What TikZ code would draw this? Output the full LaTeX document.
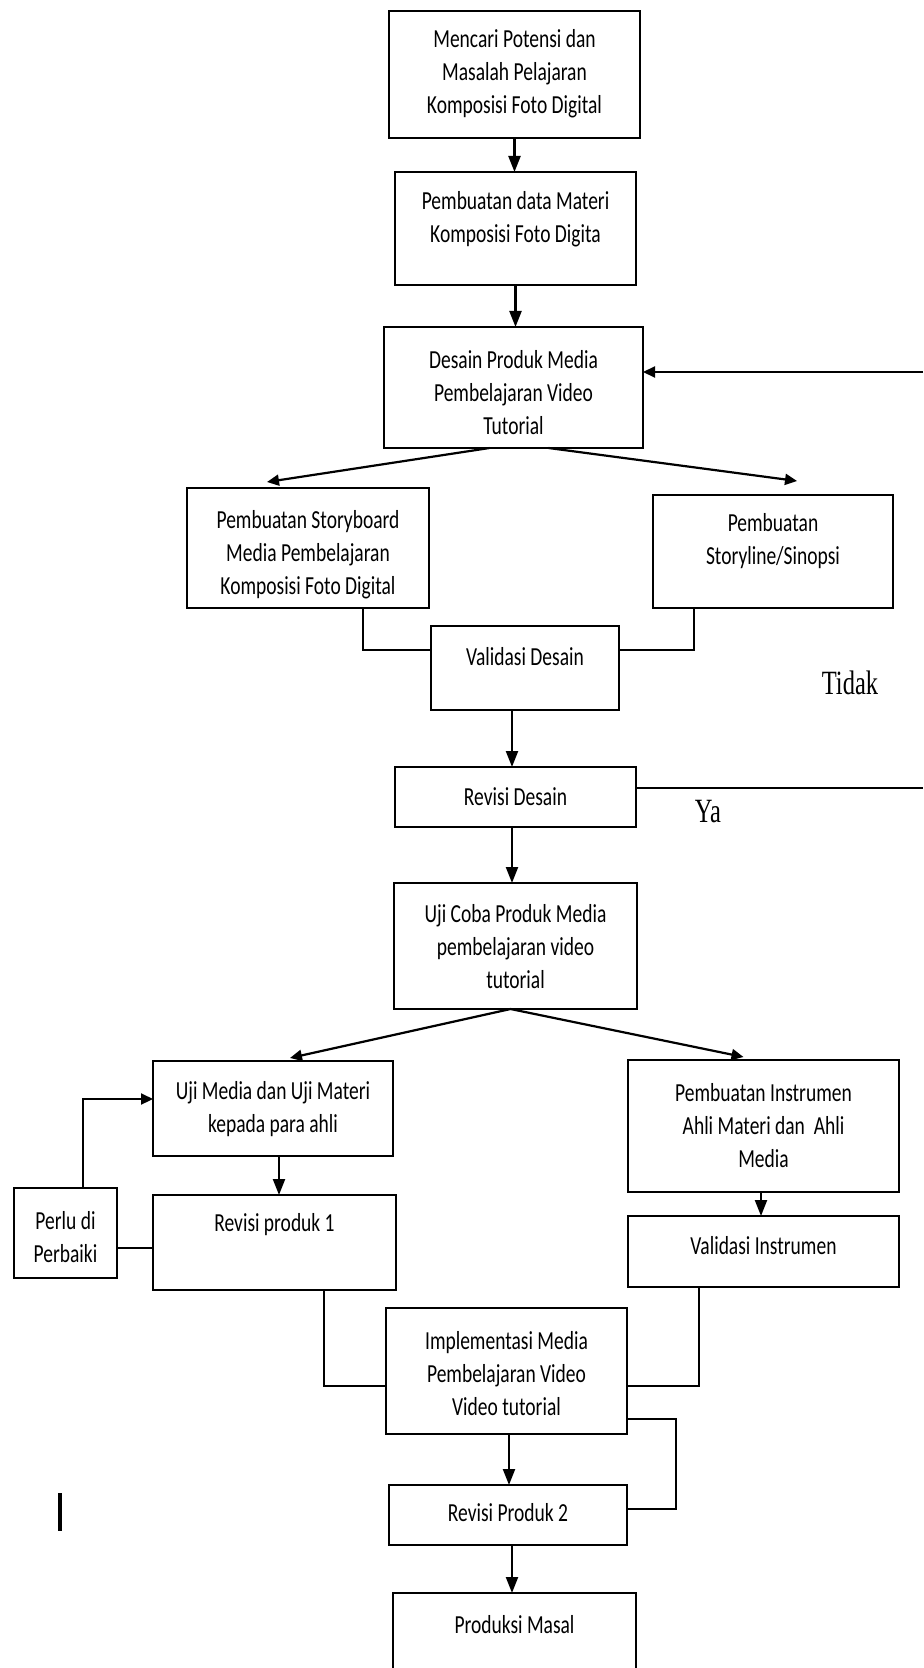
\documentclass[tikz,border=0pt]{standalone}
\usepackage{fontspec}
\setmainfont{Carlito}[FakeStretch=0.75]
\newfontfamily\serifnote{Liberation Serif}[FakeStretch=0.72]
\usetikzlibrary{arrows.meta,calc}
\begin{document}
\begin{tikzpicture}[x=0.5pt,y=-0.5pt,
  box/.style={draw, line width=1.3pt, inner sep=0pt, outer sep=0pt},
  txt/.style={align=center, font=\fontsize{13pt}{16.5pt}\selectfont, inner sep=0pt},
  conn/.style={line width=1.1pt},
  arr/.style={conn, -{Triangle[length=8pt,width=6pt]}},
  sarr/.style={conn, -{Triangle[length=6pt,width=5.5pt]}},
  lbl/.style={font=\serifnote\fontsize{17pt}{20pt}\selectfont, inner sep=0pt}]
\useasboundingbox (0,0) rectangle (923,1668);
\clip (0,0) rectangle (923,1668);
\fill[white] (0,0) rectangle (923,1668);

% boxes
\node[box, minimum width=125.5pt, minimum height=63.5pt] (b1) at (514.5,74.5) {};
\node[box, minimum width=120.5pt, minimum height=56.5pt] (b2) at (515.5,228.5) {};
\node[box, minimum width=129.5pt, minimum height=60.5pt] (b3) at (513.5,387.5) {};
\node[box, minimum width=121pt, minimum height=60pt] (b4) at (308,548) {};
\node[box, minimum width=120pt, minimum height=56.5pt] (b5) at (773,551.5) {};
\node[box, minimum width=94pt, minimum height=42pt] (b6) at (525,668) {};
\node[box, minimum width=120.5pt, minimum height=30pt] (b7) at (515.5,797) {};
\node[box, minimum width=121.5pt, minimum height=63pt] (b8) at (515.5,946) {};
\node[box, minimum width=120pt, minimum height=47.5pt] (b9) at (273,1108.5) {};
\node[box, minimum width=135.5pt, minimum height=66pt] (b10) at (763.5,1126) {};
\node[box, minimum width=121.5pt, minimum height=47.5pt] (b11) at (274.5,1242.5) {};
\node[box, minimum width=51.5pt, minimum height=45pt] (b12) at (65.5,1233) {};
\node[box, minimum width=135.5pt, minimum height=35.5pt] (b13) at (763.5,1251.5) {};
\node[box, minimum width=120.5pt, minimum height=63pt] (b14) at (506.5,1371) {};
\node[box, minimum width=119pt, minimum height=30pt] (b15) at (508,1515) {};
\node[box, minimum width=121.5pt, minimum height=57pt] (b16) at (514.5,1650) {};

% texts
\node[txt] (b1t) at (514.5,74) {Mencari Potensi dan\\Masalah Pelajaran\\Komposisi Foto Digital};
\node[txt] (b2t) at (515.5,219.5) {Pembuatan data Materi\\Komposisi Foto Digita};
\node[txt] (b3t) at (513.5,393) {Desain Produk Media\\Pembelajaran Video\\Tutorial};
\node[txt] (b4t) at (308,555) {Pembuatan Storyboard\\Media Pembelajaran\\Komposisi Foto Digital};
\node[txt] (b5t) at (773,541.5) {Pembuatan\\Storyline/Sinopsi};
\node[txt] (b6t) at (525,657) {Validasi Desain};
\node[txt] (b7t) at (515.5,797) {Revisi Desain};
\node[txt] (b8t) at (515.5,947) {Uji Coba Produk Media\\pembelajaran video\\tutorial};
\node[txt] (b9t) at (273,1109) {Uji Media dan Uji Materi\\kepada para ahli};
\node[txt] (b10t) at (763.5,1126) {Pembuatan Instrumen\\Ahli Materi dan~ Ahli\\Media};
\node[txt] (b11t) at (274.5,1225) {Revisi produk 1};
\node[txt] (b12t) at (65.5,1237.5) {Perlu di\\Perbaiki};
\node[txt] (b13t) at (763.5,1246) {Validasi Instrumen};
\node[txt] (b14t) at (506.5,1374) {Implementasi Media\\Pembelajaran Video\\Video tutorial};
\node[txt] (b15t) at (508,1513) {Revisi Produk 2};
\node[txt] (b16t) at (514.5,1625) {Produksi Masal};

\node[lbl] (tidak) at (850,683) {Tidak};
\node[lbl] (ya) at (708,812) {Ya};

% connectors
\draw[arr] (b1.south) -- (b1.south |- b2.north);
\draw[arr] (b2.south) -- (b2.south |- b3.north);
\draw[sarr] ($(b3.south)+(-24,0)$) -- ($(b4.north)+(-41,-6)$);
\draw[sarr] ($(b3.south)+(35,0)$) -- ($(b5.north)+(24,-14)$);
\draw[conn] ($(b4.south west)+(176,0)$) |- ($(b6.north west)+(0,24)$);
\draw[conn] ($(b5.south west)+(41,0)$) |- ($(b6.north east)+(0,24)$);
\coordinate (c67) at ($(b6.south west)+(81,0)$);
\draw[arr] (c67) -- (c67 |- b7.north);
\coordinate (eY) at (923,788);
\draw[conn] ($(b7.north east)+(0,21)$) -- (eY);
\coordinate (eT) at (923,372);
\draw[sarr] (eT) -- ($(b3.north east)+(0,45)$);
\coordinate (c78) at ($(b7.south west)+(117,0)$);
\draw[arr] (c78) -- (c78 |- b8.north);
\draw[sarr] ($(b8.south)+(-5,0)$) -- ($(b9.north)+(17,-3)$);
\draw[sarr] ($(b8.south)+(-5,0)$) -- ($(b10.north)+(-20,-3)$);
\coordinate (c911) at ($(b9.south west)+(126,0)$);
\draw[arr] (c911) -- (c911 |- b11.north);
\draw[sarr] ($(b12.north west)+(69,0)$) |- ($(b9.north west)+(0,38)$);
\draw[conn] ($(b12.north east)+(0,60)$) -- ($(b11.north west)+(0,53)$);
\coordinate (c1013) at ($(b10.south west)+(133,0)$);
\draw[arr] (c1013) -- (c1013 |- b13.north);
\draw[conn] ($(b11.south west)+(171,0)$) |- ($(b14.north west)+(0,78)$);
\draw[conn] ($(b13.south west)+(71,0)$) |- ($(b14.north east)+(0,78)$);
\coordinate (c1415) at ($(b14.south west)+(123,0)$);
\draw[arr] (c1415) -- (c1415 |- b15.north);
\draw[conn] ($(b14.north east)+(0,111)$) -- ++(49,0) |- ($(b15.north east)+(0,24)$);
\coordinate (c1516) at ($(b15.south west)+(123,0)$);
\draw[arr] (c1516) -- (c1516 |- b16.north);

% stray mark
\draw[line width=1.6pt] (60,1493) -- (60,1531);
\end{tikzpicture}
\end{document}
